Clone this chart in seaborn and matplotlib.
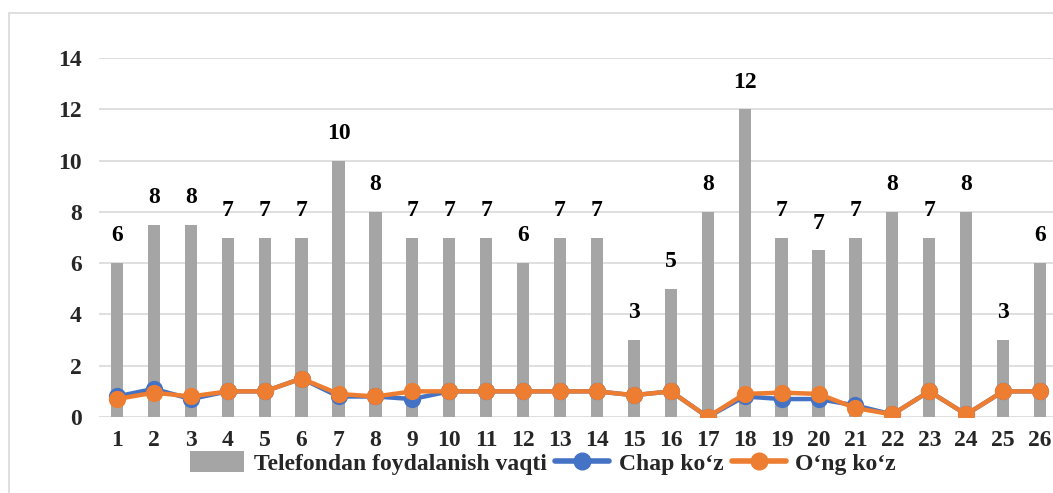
import matplotlib
matplotlib.use("Agg")
import matplotlib.pyplot as plt
from matplotlib.patches import Patch, Rectangle
from matplotlib.lines import Line2D
import seaborn as sns
import pandas as pd

# Respondent numbers
respondents = [str(i) for i in range(1, 27)]

# Daily phone usage, hours
phone_hours = [6, 7.5, 7.5, 7, 7, 7, 10, 8, 7, 7, 7, 6, 7, 7, 3, 5, 8, 12, 7, 6.5,
               7, 8, 7, 8, 3, 6]

# Visual acuity, left eye and right eye
left_eye = [0.8, 1.1, 0.7, 1.0, 1.0, 1.5, 0.8, 0.8, 0.7, 1.0, 1.0, 1.0, 1.0, 1.0,
            0.85, 1.0, 0.0, 0.8, 0.7, 0.7, 0.45, 0.1, 1.0, 0.1, 1.0, 1.0]
right_eye = [0.7, 0.95, 0.8, 1.0, 1.0, 1.5, 0.9, 0.8, 1.0, 1.0, 1.0, 1.0, 1.0, 1.0,
             0.85, 1.0, 0.0, 0.9, 0.95, 0.9, 0.35, 0.1, 1.0, 0.1, 1.0, 1.0]

series_names = ["Telefondan foydalanish vaqti", "Chap ko\u2018z", "O\u2018ng ko\u2018z"]
y_ticks = [0, 2, 4, 6, 8, 10, 12, 14]

BAR_C = "#A5A5A5"
BLUE = "#4472C4"
ORANGE = "#ED7D31"
GRID = "#D9D9D9"
FS = 17
LW = 3.2
MS = 10

sns.set_theme(style="white")
plt.rcParams["font.family"] = ["Liberation Serif", "DejaVu Serif"]
plt.rcParams["font.weight"] = "bold"

df = pd.DataFrame({"resp": respondents, "hours": phone_hours,
                   "left": left_eye, "right": right_eye})

W, H = 1053, 493
fig = plt.figure(figsize=(W / 100, H / 100), dpi=100)
fig.patch.set_facecolor("white")

# chart frame
fig.add_artist(Rectangle((9 / W, -0.1), 1.2, 1 - 13 / H + 0.1,
                         transform=fig.transFigure, fill=False,
                         edgecolor=GRID, linewidth=1.2))

left_px, right_px = 98.5, 1058.5
top_px, bottom_px = 58, 417
ax = fig.add_axes([left_px / W, 1 - bottom_px / H,
                   (right_px - left_px) / W, (bottom_px - top_px) / H])
ax.set_facecolor("none")

sns.barplot(data=df, x="resp", y="hours", color=BAR_C, saturation=1,
            width=0.33, linewidth=0, ax=ax, zorder=2)

def excel_round(v):
    return str(int(v + 0.5))

ax.bar_label(ax.containers[0], labels=[excel_round(v) for v in phone_hours],
             padding=12, fontsize=FS, fontweight="bold", color="black")

sns.pointplot(data=df, x="resp", y="left", color=BLUE, markers="o",
              linewidth=LW, markersize=MS, errorbar=None, ax=ax, zorder=3)
sns.pointplot(data=df, x="resp", y="right", color=ORANGE, markers="o",
              linewidth=LW, markersize=MS, errorbar=None, ax=ax, zorder=4)

ax.set_ylim(0, 14)
ax.set_xlim(-0.5, 25.5)
ax.set_yticks(y_ticks)
ax.set_yticklabels([str(t) for t in y_ticks])
ax.grid(axis="y", color=GRID, linewidth=1.2, zorder=0)
ax.grid(axis="x", visible=False)
ax.set_axisbelow(True)
for s in ax.spines.values():
    s.set_visible(False)
ax.set_xlabel("")
ax.set_ylabel("")
ax.tick_params(axis="both", length=0, labelsize=FS)
ax.tick_params(axis="y", pad=12)
ax.tick_params(axis="x", pad=9)
for lbl in ax.get_xticklabels() + ax.get_yticklabels():
    lbl.set_fontweight("bold")

handles = [
    Patch(facecolor=BAR_C, edgecolor="none"),
    Line2D([0], [0], color=BLUE, linewidth=LW + 0.8, marker="o", markersize=MS + 2),
    Line2D([0], [0], color=ORANGE, linewidth=LW + 0.8, marker="o", markersize=MS + 2),
]
fig.legend(handles, series_names, loc="center", ncol=3, frameon=False,
           bbox_to_anchor=(543 / W, 1 - 463 / H),
           prop={"family": "Liberation Serif", "weight": "bold", "size": FS},
           handlelength=2.3, handleheight=0.95, handletextpad=0.4,
           columnspacing=0.35, borderaxespad=0)

fig.savefig("out.png", dpi=100, facecolor="white")
